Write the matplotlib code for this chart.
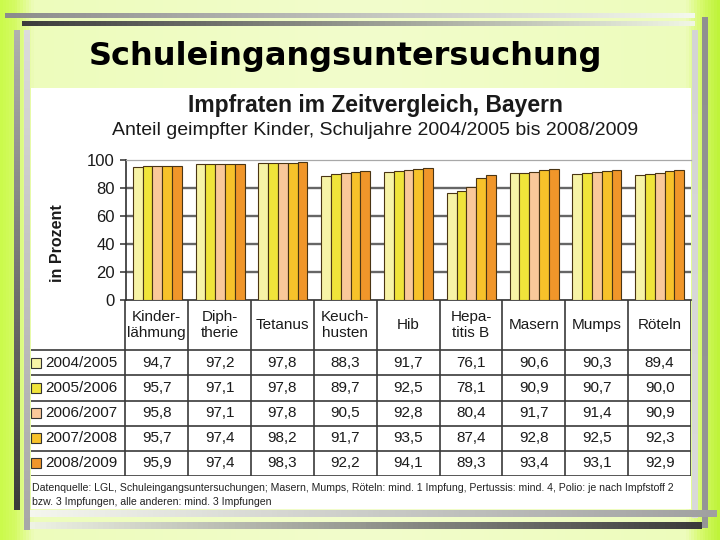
import numpy as np
import matplotlib
matplotlib.use("Agg")
import matplotlib.pyplot as plt
from matplotlib.colors import LinearSegmentedColormap

# data
categories = ["Kinder-\nlähmung", "Diph-\ntherie", "Tetanus", "Keuch-\nhusten", "Hib",
              "Hepa-\ntitis B", "Masern", "Mumps", "Röteln"]
years = ["2004/2005", "2005/2006", "2006/2007", "2007/2008", "2008/2009"]
rate_2004 = [94.7, 97.2, 97.8, 88.3, 91.7, 76.1, 90.6, 90.3, 89.4]
rate_2005 = [95.7, 97.1, 97.8, 89.7, 92.5, 78.1, 90.9, 90.7, 90.0]
rate_2006 = [95.8, 97.1, 97.8, 90.5, 92.8, 80.4, 91.7, 91.4, 90.9]
rate_2007 = [95.7, 97.4, 98.2, 91.7, 93.5, 87.4, 92.8, 92.5, 92.3]
rate_2008 = [95.9, 97.4, 98.3, 92.2, 94.1, 89.3, 93.4, 93.1, 92.9]
rates = [rate_2004, rate_2005, rate_2006, rate_2007, rate_2008]
yticks = [0, 20, 40, 60, 80, 100]

colors = ["#f7f3a6", "#f0e43a", "#f9c89a", "#f7c22a", "#f0962a"]
edge = "#4a3514"

W, H = 720, 540


def px(x0, y0, x1, y1):
    """pixel box (top-left origin) -> figure fraction rect"""
    return [x0 / W, 1 - y1 / H, (x1 - x0) / W, (y1 - y0) / H]


fig = plt.figure(figsize=(7.2, 5.4), dpi=100)

# ---- slide background and decoration ----
bg = fig.add_axes([0, 0, 1, 1])
bg.set_xlim(0, W)
bg.set_ylim(H, 0)
bg.axis("off")

slide = LinearSegmentedColormap.from_list(
    "slide", [(0.0, "#cbfa4c"), (0.02, "#d6fb68"), (0.045, "#edfcbc"), (0.5, "#f2fccc"),
              (0.955, "#edfcbc"), (0.975, "#d8fa70"), (1.0, "#bff43a")])
grad = np.linspace(0, 1, 720).reshape(1, -1)
bg.imshow(grad, cmap=slide, extent=(0, W, H, 0), aspect="auto", zorder=0)


def bar_grad(x0, x1, y0, y1, c0, c1, vertical=False):
    cm = LinearSegmentedColormap.from_list("g", [c0, c1])
    g = np.linspace(0, 1, 128)
    g = g.reshape(-1, 1) if vertical else g.reshape(1, -1)
    bg.imshow(g, cmap=cm, extent=(x0, x1, y1, y0), aspect="auto", zorder=1)


# top bars
bar_grad(5, 695, 13, 18, "#8c8c8c", "#f4f8ec")
bar_grad(22, 695, 21, 26, "#3c3c3c", "#f0f6e4")
# right bars
bar_grad(702, 708, 17, 528, "#909090", "#969696", vertical=True)
bar_grad(692, 698, 30, 518, "#d4d4d4", "#dadada", vertical=True)
# left bars
bar_grad(14, 20, 30, 510, "#b0b0b0", "#3a3a3a", vertical=True)
bar_grad(24, 30, 30, 530, "#dcdcdc", "#a8a8a8", vertical=True)
# bottom bars
bar_grad(30, 717, 510, 517, "#f4f6ee", "#a0a0a0")
bar_grad(30, 702, 522, 529, "#eef2e4", "#3a3a3a")

# white chart panel
bg.add_patch(plt.Rectangle((31, 88), 660, 421, facecolor="white", edgecolor="none", zorder=2))

bg.text(89, 65, "Schuleingangsuntersuchung", fontsize=23, fontweight="bold",
        family="DejaVu Sans", color="black", va="baseline", ha="left", zorder=3)
bg.text(375, 112, "Impfraten im Zeitvergleich, Bayern", fontsize=16.5, fontweight="bold",
        family="Liberation Sans", color="#1a1a1a", va="baseline", ha="center", zorder=3)
bg.text(375, 135, "Anteil geimpfter Kinder, Schuljahre 2004/2005 bis 2008/2009", fontsize=14,
        family="Liberation Sans", color="#1a1a1a", va="baseline", ha="center", zorder=3)
bg.text(57, 243, "in Prozent", fontsize=11.5, fontweight="bold", rotation=90,
        family="Liberation Sans", color="#1a1a1a", va="center", ha="center", zorder=3)
bg.text(32, 491, "Datenquelle: LGL, Schuleingangsuntersuchungen; Masern, Mumps, Röteln: mind. 1 Impfung, "
        "Pertussis: mind. 4, Polio: je nach Impfstoff 2",
        fontsize=7.6, family="Liberation Sans", color="#222222", va="baseline", zorder=3)
bg.text(32, 505, "bzw. 3 Impfungen, alle anderen: mind. 3 Impfungen",
        fontsize=7.6, family="Liberation Sans", color="#222222", va="baseline", zorder=3)

# ---- bar chart ----
ax = fig.add_axes(px(126, 160, 691, 300))
ax.set_facecolor("none")
x = np.arange(len(categories))
bw = 0.156
for j, vals in enumerate(rates):
    ax.bar(x + (j - 2) * bw, vals, bw, color=colors[j], edgecolor=edge,
           linewidth=0.8, zorder=3)
ax.set_xlim(-0.5, len(categories) - 0.5)
ax.set_ylim(0, 100)
ax.set_yticks(yticks)
ax.set_yticklabels([str(t) for t in yticks], fontsize=12, family="Liberation Sans", color="#1a1a1a")
ax.set_xticks([])
for t in yticks[1:-1]:
    ax.axhline(t, color="#666666", linewidth=1.7, zorder=1)
ax.tick_params(axis="y", length=4, width=1.2, color="#404040", pad=4)
ax.spines["right"].set_visible(False)
ax.spines["top"].set_color("#a8a8a8")
ax.spines["top"].set_linewidth(0.9)
ax.spines["left"].set_color("#303030")
ax.spines["left"].set_linewidth(1.2)
ax.spines["bottom"].set_color("#303030")
ax.spines["bottom"].set_linewidth(1.2)

# ---- data table under the chart, sharing the category scale ----
tab = fig.add_axes(px(31, 300, 691, 476))
tab.set_xlim(-2.0, len(categories) - 0.5)
tab.set_ylim(len(years) + 2, 0)
tab.axis("off")
line_kw = dict(color="#3a3a3a", linewidth=1.2, solid_capstyle="butt")
for k in range(len(categories) + 1):
    tab.plot([k - 0.5, k - 0.5], [0, len(years) + 2], **line_kw)
for r in range(len(years) + 1):
    tab.plot([-2.0, len(categories) - 0.5], [r + 2, r + 2], **line_kw)

for i, name in enumerate(categories):
    tab.text(i, 1.0, name, ha="center", va="center", fontsize=11, family="Liberation Sans",
             color="#1a1a1a", linespacing=1.15)

for j, (yr, vals) in enumerate(zip(years, rates)):
    yc = j + 2.5
    tab.plot([-1.915], [yc], marker="s", markersize=6.5, markerfacecolor=colors[j],
             markeredgecolor="#333333", markeredgewidth=0.8)
    tab.text(-1.78, yc, yr, ha="left", va="center", fontsize=11, family="Liberation Sans",
             color="#1a1a1a")
    for i, v in enumerate(vals):
        tab.text(i, yc, f"{v:.1f}".replace(".", ","), ha="center", va="center", fontsize=11,
                 family="Liberation Sans", color="#1a1a1a")

fig.savefig("out.png", dpi=100)
